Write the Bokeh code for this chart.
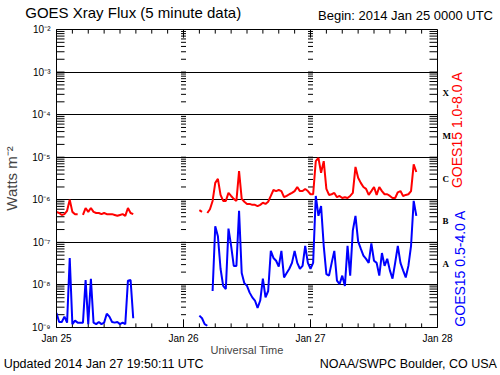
import numpy as np
from datetime import datetime, timedelta
from bokeh.plotting import figure
from bokeh.models import Range1d, FixedTicker, LogAxis, LinearAxis
from bokeh.embed import file_html
from bokeh.resources import INLINE

BEGIN = datetime(2014, 1, 25)
STEP_HOURS = 0.5  # sampling of the values
nan = float("nan")

# GOES15 1.0-8.0 A (long channel), W m^-2
long_seg1_start = 0.0
long_seg1 = [5.2e-7, 4.9e-7, 4.4e-7, 4.6e-7, 5.5e-7, 1.0e-6, 5.2e-7, 4.6e-7, 4.6e-7, nan,
             4.4e-7, 6.4e-7, 5.2e-7, 6.4e-7, 5.2e-7, 4.9e-7, 4.9e-7, 4.6e-7, 4.9e-7, 4.6e-7,
             4.6e-7, 4.6e-7, 4.4e-7, 4.2e-7, 4.4e-7, 4.6e-7, 4.2e-7, 6.4e-7, 4.9e-7, 4.6e-7]
long_seg2_start = 27.0
long_seg2 = [5.7e-7, 5.2e-7, nan, 4.9e-7, 6.0e-7, 9.4e-7, 2.5e-6, 3.1e-6, 1.3e-6, 9.4e-7,
             9.4e-7, 1.45e-6, 1.23e-6, 1.05e-6, 9.4e-7, 4.7e-6, 1.05e-6, 9.0e-7, 8.0e-7, 8.0e-7,
             7.6e-7, 7.6e-7, 7.1e-7, 7.6e-7, 8.5e-7, 8.0e-7, 9.0e-7, 1.23e-6, 1.7e-6, 1.6e-6,
             1.7e-6, 1.6e-6, 1.15e-6, 1.23e-6, 1.35e-6, 1.45e-6, 1.6e-6, 2.0e-6, 1.6e-6, 1.6e-6,
             1.8e-6, 1.6e-6, 1.35e-6, 1.35e-6, 8.1e-6, 9.6e-6, 4.3e-6, 8.1e-6, 1.8e-6, 1.3e-6,
             1.35e-6, 1.45e-6, 1.15e-6, 1.23e-6, 1.1e-6, 1.15e-6, 1.1e-6, 1.23e-6, 1.45e-6, 5.9e-6,
             3.3e-6, 2.5e-6, 2.0e-6, 1.8e-6, 1.3e-6, 1.6e-6, 2.0e-6, 1.3e-6, 2.0e-6, 1.6e-6,
             1.35e-6, 1.35e-6, 1.23e-6, 1.1e-6, 1.1e-6, 1.5e-6, 1.6e-6, 1.23e-6, 1.3e-6, 1.35e-6,
             1.6e-6, 6.8e-6, 4.5e-6]

# GOES15 0.5-4.0 A (short channel), W m^-2
short_seg1_start = 0.0
short_seg1 = [2.2e-9, 1.35e-9, 1.35e-9, 1.8e-9, 1.3e-9, 4.3e-8, 1.2e-9, 1.45e-9, 1.3e-9, 1.3e-9,
              1.3e-9, 1.3e-8, 1.2e-9, 1.4e-8, 1.3e-9, 1.2e-9, 1.35e-9, 1.2e-9, 1.3e-9, 2.1e-9,
              1.8e-9, 1.35e-9, 1.3e-9, 1.35e-9, 1.2e-9, 1.3e-9, 1.2e-9, 1.26e-8, 1.3e-8, 1.65e-9]
short_seg2_start = 27.0
short_seg2 = [1.9e-9, 1.65e-9, 1.2e-9, 1.1e-9, nan, 7.2e-9, 2.4e-7, 1.4e-7, 2.4e-8, 9.5e-9,
              8.0e-9, 2.1e-7, 8.3e-8, 2.8e-8, 2.8e-8, 5.5e-7, 1.9e-8, 1.1e-8, 9.5e-9, 6.6e-9,
              5.1e-9, 4.3e-9, 2.9e-9, 4.3e-9, 1.4e-8, 5.1e-9, 7.2e-9, 6.3e-8, 4.3e-8, 3.7e-8,
              2.7e-8, 6.3e-8, 1.5e-8, 1.9e-8, 2.4e-8, 3.3e-8, 6.3e-8, 3.3e-8, 2.4e-8, 2.8e-8,
              8.3e-8, 3.3e-8, 2.4e-8, 3.3e-8, 1.23e-6, 4.2e-7, 7.1e-7, 8.3e-8, 1.8e-8, 1.65e-8,
              3.3e-8, 6.3e-8, 1.26e-8, 1.05e-8, 1.65e-8, 9.5e-9, 8.3e-8, 1.65e-8, 1.9e-7, 4.2e-7,
              1.05e-7, 7.1e-8, 4.9e-8, 4.1e-8, 3.3e-8, 9.5e-8, 3.7e-8, 3.3e-8, 1.65e-8, 5.6e-8,
              2.8e-8, 4.1e-8, 2.2e-8, 1.4e-8, 3.3e-8, 8.3e-8, 3.3e-8, 2.2e-8, 1.5e-8, 2.8e-8,
              8.3e-8, 9.4e-7, 4.2e-7]

day_hours = [0, 24, 48, 72]
day_labels = ["Jan 25", "Jan 26", "Jan 27", "Jan 28"]
decade_exps = [-9, -8, -7, -6, -5, -4, -3, -2]
y_tick_labels = ["10⁻⁹", "10⁻⁸", "10⁻⁷", "10⁻⁶", "10⁻⁵", "10⁻⁴", "10⁻³", "10⁻²"]
class_exps = [-7.5, -6.5, -5.5, -4.5, -3.5]
class_labels = ["A", "B", "C", "M", "X"]

title_text = "GOES Xray Flux (5 minute data)"
begin_text = "Begin:  2014 Jan 25 0000 UTC"
updated_text = "Updated 2014 Jan 27 19:50:11 UTC"
credit_text = "NOAA/SWPC Boulder, CO USA"
long_label = "GOES15 1.0-8.0 A"
short_label = "GOES15 0.5-4.0 A"

FONT = "Liberation Sans"
EPOCH = datetime(1970, 1, 1)


def ms(h):
    return (BEGIN + timedelta(hours=h) - EPOCH).total_seconds() * 1000.0


def build(segments):
    xs, ys = [], []
    for start, vals in segments:
        if xs:
            xs.append(nan)
            ys.append(nan)
        for i, v in enumerate(vals):
            xs.append(ms(start + STEP_HOURS * i))
            ys.append(v)
    return np.array(xs), np.array(ys)


lx, ly = build([(long_seg1_start, long_seg1), (long_seg2_start, long_seg2)])
sx, sy = build([(short_seg1_start, short_seg1), (short_seg2_start, short_seg2)])

p = figure(x_axis_type="datetime", y_axis_type="log",
           width=498, height=375,
           x_range=Range1d(ms(day_hours[0]), ms(day_hours[-1])),
           y_range=Range1d(10.0 ** decade_exps[0], 10.0 ** decade_exps[-1]),
           output_backend="svg", toolbar_location=None,
           min_border_left=56, min_border_right=61, min_border_top=28, min_border_bottom=48)
p.background_fill_color = "white"
p.border_fill_color = "white"
p.outline_line_color = "black"
p.outline_line_alpha = 1.0

decades = [10.0 ** e for e in decade_exps]
minors = [m * 10.0 ** e for e in decade_exps[:-1] for m in range(2, 10)]
day_ticks = [ms(h) for h in day_hours]
hour_minor = [ms(h) for h in range(day_hours[0], day_hours[-1] + 1, 3) if h % 24 != 0]

p.xgrid.visible = False
p.ygrid.ticker = FixedTicker(ticks=decades[1:-1])
p.ygrid.grid_line_color = "black"
p.ygrid.grid_line_alpha = 1.0
p.ygrid.grid_line_width = 1


def no_ticks(ax):
    ax.major_tick_in = 0
    ax.major_tick_out = 0
    ax.minor_tick_in = 0
    ax.minor_tick_out = 0


def text_axis(ax, ticks, labels, size, standoff, color="black", font=FONT, orient="horizontal"):
    ax.ticker = FixedTicker(ticks=ticks, minor_ticks=[])
    ax.major_label_overrides = {t: s for t, s in zip(ticks, labels)}
    no_ticks(ax)
    ax.axis_line_color = None
    ax.major_label_standoff = standoff
    ax.major_label_text_font = font
    ax.major_label_text_font_size = size
    ax.major_label_text_color = color
    ax.major_label_orientation = orient


# left axis
ya = p.yaxis[0]
text_axis(ya, decades, y_tick_labels, "10px", 6)
ya.axis_line_color = "black"
ya.axis_label = "Watts m⁻²"
ya.axis_label_text_font = FONT
ya.axis_label_text_font_size = "15px"
ya.axis_label_text_font_style = "normal"
ya.axis_label_standoff = 9

# right axis with flare classes
ra = LogAxis()
text_axis(ra, [10.0 ** e for e in class_exps], class_labels, "9px", 5, font="Liberation Serif")
ra.major_label_text_font_style = "bold"
p.add_layout(ra, "right")

# right-side channel labels (rotated text starts at its tick and runs upwards)
red_ax = LogAxis()
text_axis(red_ax, [10.0 ** -5.724], [long_label], "14px", 4, color="#ff0000", orient=np.pi / 2)
p.add_layout(red_ax, "right")
blue_ax = LogAxis()
text_axis(blue_ax, [10.0 ** -8.98], [short_label], "14px", -16, color="#0000ff", orient=np.pi / 2)
p.add_layout(blue_ax, "right")

# bottom axis
xa = p.xaxis[0]
text_axis(xa, day_ticks, day_labels, "10px", 5)
xa.axis_line_color = "black"
xa.axis_label = "Universal Time"
xa.axis_label_text_font = FONT
xa.axis_label_text_font_size = "11px"
xa.axis_label_text_font_style = "normal"
xa.axis_label_standoff = -3

# footer texts
foot = LinearAxis()
text_axis(foot, [ms(8.9), ms(66.5)], [updated_text, credit_text], "12.5px", -2)
p.add_layout(foot, "below")

# header texts
head1 = LinearAxis()
text_axis(head1, [ms(66.3)], [begin_text], "13px", 7)
p.add_layout(head1, "above")
head2 = LinearAxis()
text_axis(head2, [ms(14.5)], [title_text], "15px", -16)
p.add_layout(head2, "above")

# inward tick marks along the frame edges: short dashes centred a little inside the frame
HALF_TICK_H = 0.76     # about 4 px along x
HALF_TICK_Y = 1.12     # about 2 px along the log axis
ev = decades + minors
ex = [ms(day_hours[0] + HALF_TICK_H)] * len(ev) + [ms(day_hours[-1] - HALF_TICK_H)] * len(ev)
p.scatter(ex, ev * 2, marker="dash", size=8, line_color="black", line_width=1)

hx, hy, hs = [], [], []
for t_list, s in ((day_ticks[1:-1], 8), (hour_minor, 4)):
    for t in t_list:
        hx += [t, t]
        hy += [decades[0] * HALF_TICK_Y ** (s / 4), decades[-1] / HALF_TICK_Y ** (s / 4)]
        hs += [s, s]
p.scatter(hx, hy, size=hs, marker="dash", angle=np.pi / 2, line_color="black", line_width=1)

# tick marks along the interior day boundaries
ix, iy = [], []
for h in day_hours[1:-1]:
    for v in decades + minors:
        ix.append(ms(h))
        iy.append(v)
p.scatter(ix, iy, marker="dash", size=5, line_color="black", line_width=1)

p.line(lx, ly, line_color="#ff0000", line_width=2)
p.line(sx, sy, line_color="#0000ff", line_width=2)

open("out.html", "w").write(file_html(p, INLINE))
